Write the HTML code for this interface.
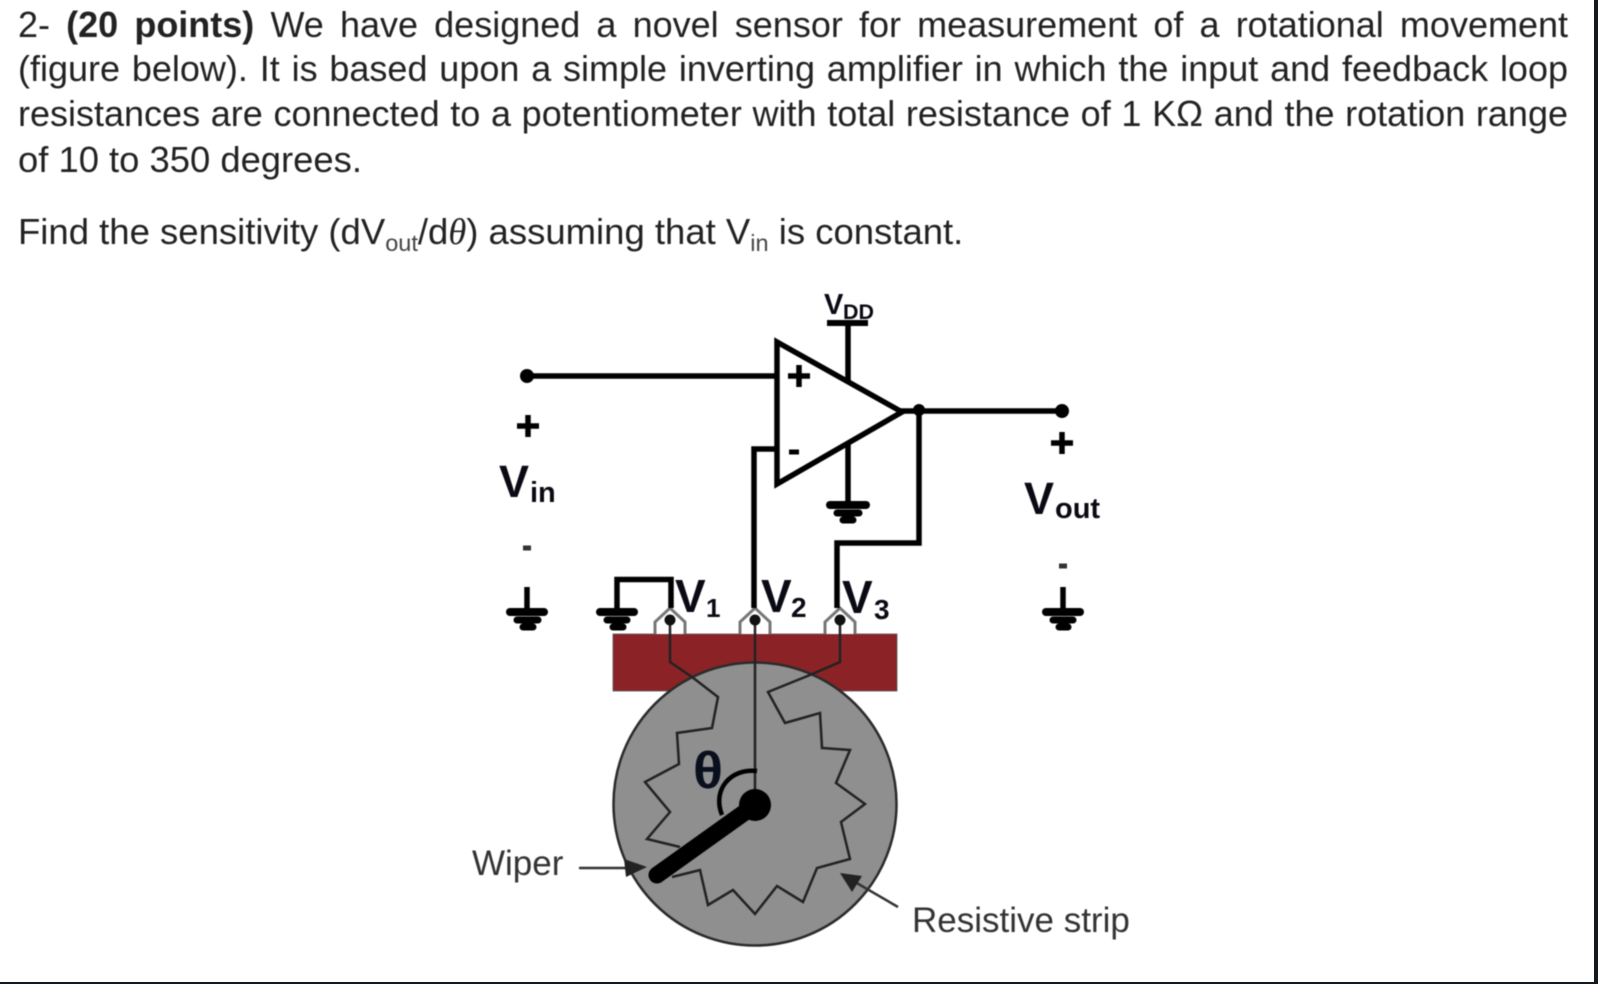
<!DOCTYPE html>
<html>
<head>
<meta charset="utf-8">
<style>
html,body{margin:0;padding:0;background:#12191f;}
#page{position:absolute;left:0;top:0;width:1594px;height:982px;background:#fff;overflow:hidden;}
.l{position:absolute;left:18px;width:1550px;height:45px;line-height:45px;font-family:"Liberation Sans",sans-serif;font-size:36px;color:#222;white-space:normal;text-align:justify;text-align-last:justify;filter:blur(0.4px);}
.l.n{text-align-last:left;white-space:nowrap;font-size:36.4px;}
#bottombar{position:absolute;left:0;top:982px;width:1598px;height:2px;background:#12191f;}
#rightbar{position:absolute;left:1594px;top:0;width:4px;height:984px;background:#12191f;}
svg{position:absolute;left:0;top:0;filter:blur(0.4px);}
</style>
</head>
<body>
<div id="page">
<div class="l" style="top:2px;">2- <b>(20 points)</b> We have designed a novel sensor for measurement of a rotational movement</div>
<div class="l" style="top:46px;">(figure below). It is based upon a simple inverting amplifier in which the input and feedback loop</div>
<div class="l" style="top:91px;">resistances are connected to a potentiometer with total resistance of 1 KΩ and the rotation range</div>
<div class="l n" style="top:137px;">of 10 to 350 degrees.</div>

<svg width="1594" height="982" viewBox="0 0 1594 982" font-family="'Liberation Sans',sans-serif">
  <text x="18" y="244" font-size="36.5" fill="#222">Find the sensitivity (dV<tspan font-size="23.5" dy="7" fill="#444">out</tspan><tspan dy="-7">/d</tspan><tspan font-family="'Liberation Serif',serif" font-style="italic">θ</tspan>) assuming that V<tspan font-size="23.5" dy="7" fill="#444">in</tspan><tspan dy="-7"> is constant.</tspan></text>

  <!-- red bar and dial -->
  <rect x="613" y="634" width="284" height="57" fill="#8b2326" stroke="#555" stroke-width="0.8"/>
  <circle cx="755" cy="804" r="141.5" fill="#8f8f8f" stroke="#2b2b2b" stroke-width="2.5"/>

  <!-- terminals -->
  <g fill="#fff" stroke="#777" stroke-width="3">
    <path d="M655 634V622L670 608L685 622V634"/>
    <path d="M740 634V622L755 608L770 622V634"/>
    <path d="M825 634V622L840 608L855 622V634"/>
  </g>

  <!-- resistive strip -->
  <path d="M670 620V662L692 677L718 697L712 728L677 733L679 764L645 782L670 812L647 839L680 847M672 877L700 870L708 905L733 890L755 914L777 886L803 902L817 868L850 859L841 822L865 804L836 783L850 750L822 748L820 713L785 723L768 692L810 675L840 662V620" fill="none" stroke="#222" stroke-width="2.5"/>
  <path d="M755 620V800" fill="none" stroke="#222" stroke-width="2.5"/>
  <g fill="#111">
    <circle cx="670" cy="620" r="5.5"/>
    <circle cx="755" cy="620" r="5.5"/>
    <circle cx="840" cy="620" r="5.5"/>
  </g>

  <!-- wiper -->
  <path d="M657 875L755 805" stroke="#000" stroke-width="17" stroke-linecap="round"/>
  <circle cx="755" cy="805" r="16" fill="#000"/>
  <path d="M757 771C730 768 712 790 722 815" fill="none" stroke="#000" stroke-width="4.5"/>
  <text x="708" y="788" font-size="52" font-weight="bold" text-anchor="middle" textLength="30" lengthAdjust="spacingAndGlyphs" fill="#0a0f1e">θ</text>

  <!-- leader arrows -->
  <path d="M579 868H630" stroke="#333" stroke-width="2.5"/>
  <path d="M647 867L624 859L626 877Z" fill="#222"/>
  <path d="M898 907L855 882" stroke="#333" stroke-width="2.5"/>
  <path d="M840 873L862 876L852 892Z" fill="#222"/>
  <text x="472" y="875" font-size="35" fill="#333">Wiper</text>
  <text x="912" y="932" font-size="35" fill="#333">Resistive strip</text>

  <!-- op-amp -->
  <g fill="none" stroke="#000" stroke-width="5.5" stroke-linecap="butt">
    <path d="M777 342L902 412L777 484Z" stroke-linejoin="miter"/>
    <path d="M527 376H775"/>
    <path d="M848 322V381"/>
    <path d="M827 323H868" stroke-width="6"/>
    <path d="M848 443V504"/>
    <path d="M775 449H754V608"/>
    <path d="M900 411H1062"/>
    <path d="M919 411V543H837V608"/>
    <path d="M617 610V579.5H671V608"/>
    <path d="M527 587V610"/>
    <path d="M1063 587V610"/>
  </g>
  <g fill="#000">
    <circle cx="527" cy="376" r="7"/>
    <circle cx="1062" cy="411" r="7"/>
    <circle cx="919" cy="410" r="6"/>
  </g>

  <!-- grounds -->
  <g stroke="#000" stroke-linecap="round">
    <path d="M830 505H866" stroke-width="8"/><path d="M837 513H859" stroke-width="7"/><path d="M843 520H853" stroke-width="7"/>
    <path d="M510 612H544" stroke-width="8"/><path d="M517 620H538" stroke-width="7"/><path d="M523 627H533" stroke-width="7"/>
    <path d="M600 612H634" stroke-width="8"/><path d="M607 620H627" stroke-width="7"/><path d="M613 627H623" stroke-width="7"/>
    <path d="M1046 612H1080" stroke-width="8"/><path d="M1053 620H1073" stroke-width="7"/><path d="M1059 627H1068" stroke-width="7"/>
  </g>

  <!-- signs -->
  <g stroke="#000" stroke-width="5.5">
    <path d="M788 376H810M799 365V387"/>
    <path d="M517 426H539M528 415V437"/>
    <path d="M1051 443H1073M1062 432V454"/>
  </g>
  <path d="M789 452H799" stroke="#000" stroke-width="5"/>
  <path d="M523 548H531" stroke="#333" stroke-width="5"/>
  <path d="M1059 566H1067" stroke="#333" stroke-width="5"/>

  <!-- labels -->
  <g font-weight="bold" fill="#0a0a14">
    <text x="824" y="314" font-size="29">V</text>
    <text x="843" y="319" font-size="21" textLength="31" lengthAdjust="spacingAndGlyphs">DD</text>
    <text x="499" y="497" font-size="45">V</text>
    <text x="530" y="502" font-size="29">in</text>
    <text x="1024" y="514" font-size="45">V</text>
    <text x="1055" y="518" font-size="29">out</text>
    <text x="675" y="612" font-size="46">V</text>
    <text x="706" y="617" font-size="26">1</text>
    <text x="761" y="612" font-size="46">V</text>
    <text x="791" y="617" font-size="28">2</text>
    <text x="842" y="613" font-size="46">V</text>
    <text x="874" y="619" font-size="28">3</text>
  </g>
</svg>
</div>
<div id="rightbar"></div>
<div id="bottombar"></div>
</body>
</html>
